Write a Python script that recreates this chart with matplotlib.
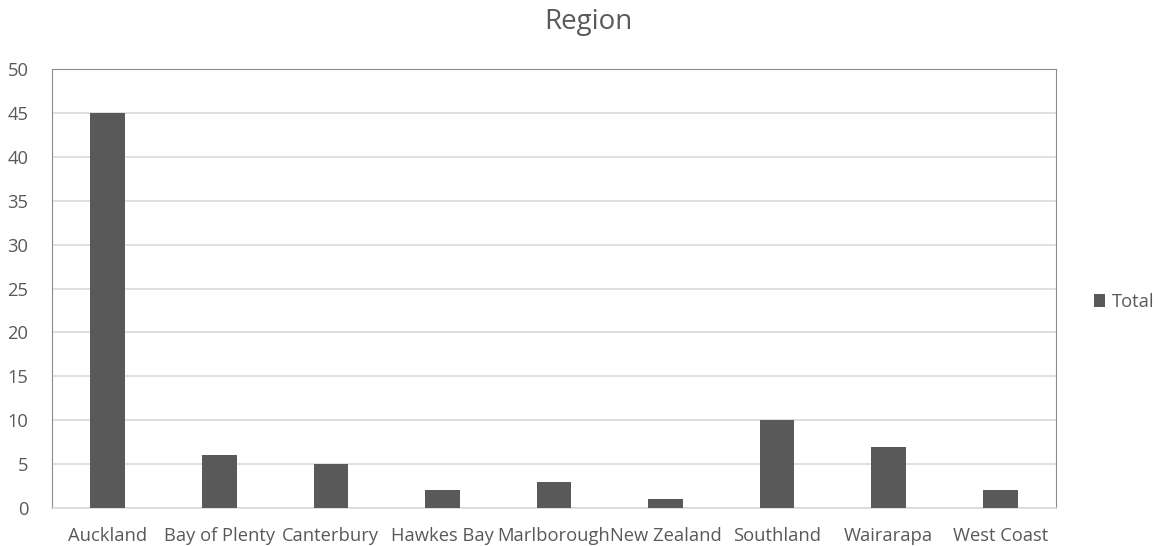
import matplotlib.pyplot as plt
import numpy as np

plt.rcParams['font.family'] = ['Open Sans', 'DejaVu Sans']

regions = ['Auckland', 'Bay of Plenty', 'Canterbury', 'Hawkes Bay', 'Marlborough',
           'New Zealand', 'Southland', 'Wairarapa', 'West Coast']
totals = [45, 6, 5, 2, 3, 1, 10, 7, 2]
yticks = [0, 5, 10, 15, 20, 25, 30, 35, 40, 45, 50]

text_col = '#595959'
bar_col = '#595959'

fig = plt.figure(figsize=(11.67, 5.46), dpi=100)
ax = fig.add_axes([52 / 1167, 38 / 546, 1004 / 1167, 439 / 546])

x = np.arange(len(regions))
ax.bar(x, totals, width=0.31, color=bar_col, zorder=3, label='Total')

ax.set_xlim(-0.5, len(regions) - 0.5)
ax.set_ylim(0, 50)
ax.set_yticks(yticks)
ax.set_xticks(x)
ax.set_xticklabels(regions)
ax.yaxis.grid(True, color='#d9d9d9', linewidth=1.2, zorder=0)
ax.tick_params(axis='both', length=0, labelsize=13.2, colors=text_col)
ax.tick_params(axis='x', pad=14)
ax.tick_params(axis='y', pad=17)
for s in ['top', 'left', 'right']:
    ax.spines[s].set_color('#8c8c8c')
ax.spines['bottom'].set_color('#d9d9d9')
ax.spines['bottom'].set_linewidth(1.2)

fig.suptitle('Region', x=588 / 1167, y=1 - 22 / 546, va='center',
             fontsize=20, color=text_col)

leg = fig.legend(loc='center left', bbox_to_anchor=(1077 / 1167, 1 - 302 / 546),
                 frameon=False, fontsize=13.2, handlelength=0.65, handleheight=0.65,
                 handletextpad=0.35)
for t in leg.get_texts():
    t.set_color(text_col)

fig.savefig('out.png', dpi=100)
